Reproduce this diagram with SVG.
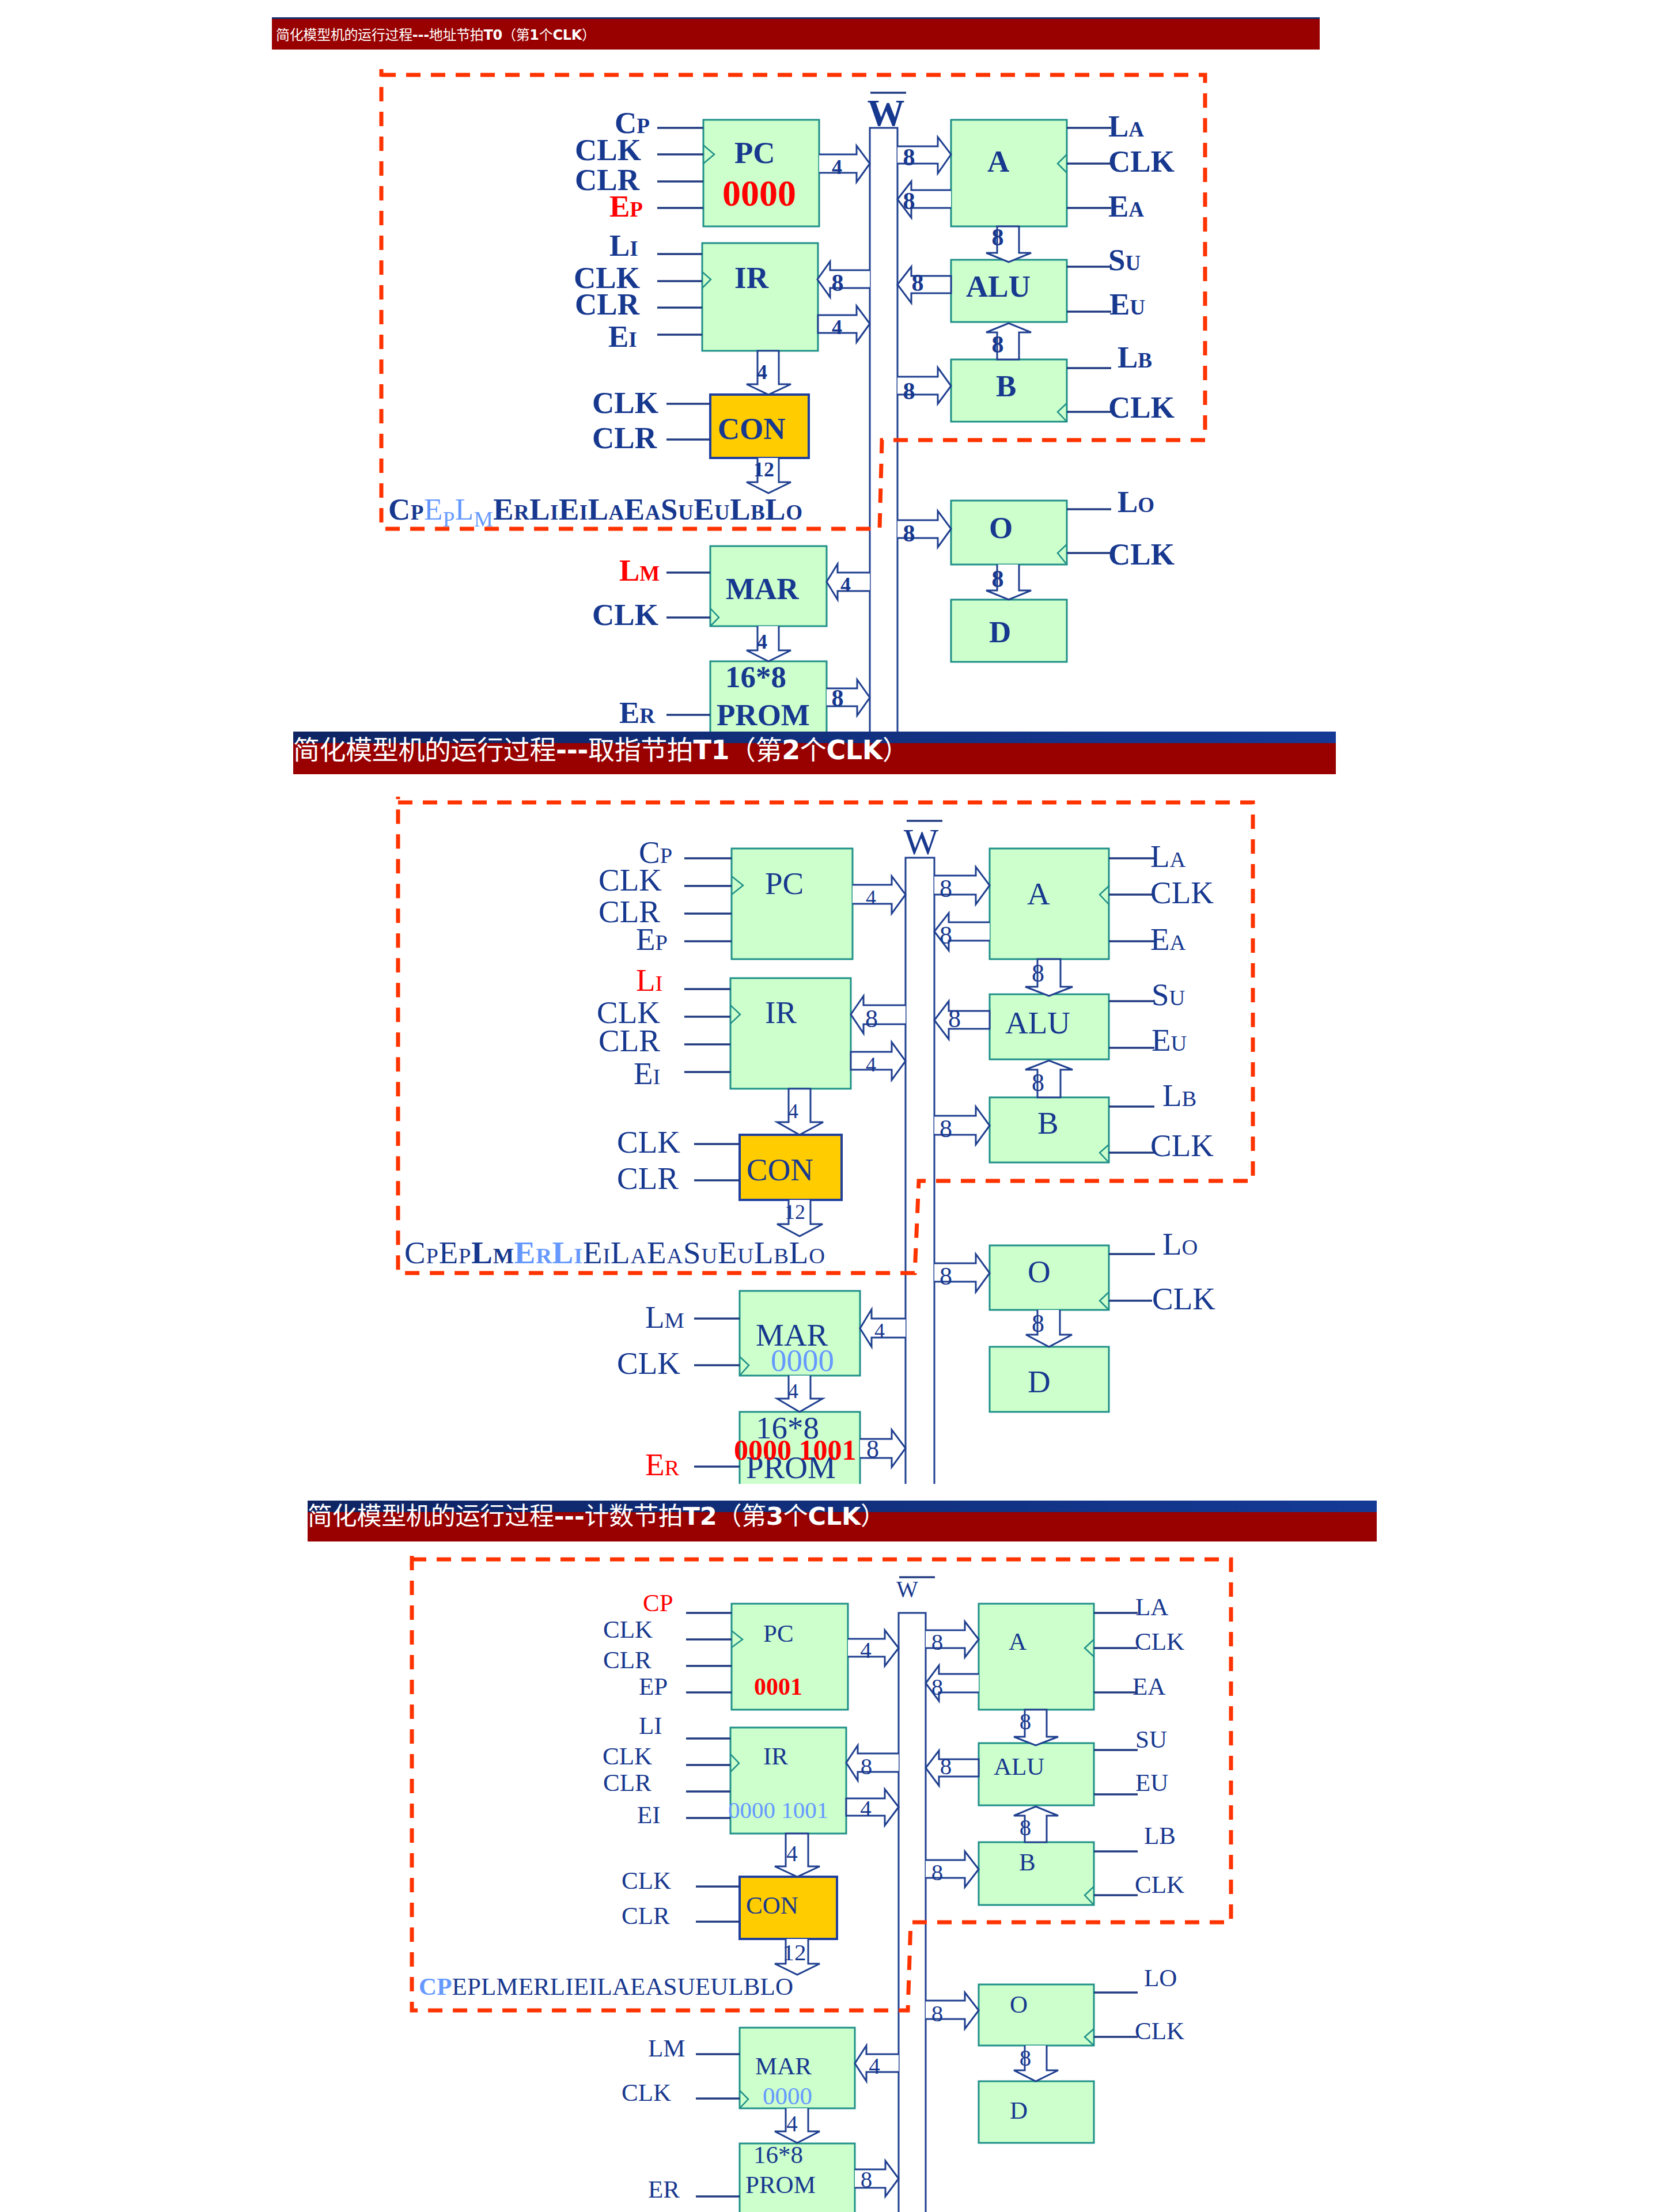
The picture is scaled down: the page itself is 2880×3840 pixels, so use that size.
<svg xmlns="http://www.w3.org/2000/svg" width="2880" height="3840" viewBox="0 0 2880 3840">
<style>
text{fill:#17388f;font-family:"Liberation Serif","Noto Sans CJK SC",serif}
.p1 text{font-weight:bold;font-size:53px}
.p2 text{font-size:55px}
.p3 text{font-size:43px}
.p1 .w{font-size:65px}.p2 .w{font-size:64px}.p3 .w{font-size:40px}
.p1 .big{font-size:64px}
.p2 .redb{font-size:50px;font-weight:bold}
.p3 .redb{font-size:42px;font-weight:bold}
.p3 .lt41{font-size:41px}
.s{font-size:.7em}
.red,.red tspan,.redb{fill:#ff0000}
.lt,.lt tspan{fill:#6699ff}
.reg{font-weight:normal}
.bd{font-weight:bold}
.m{text-anchor:middle}
.p1 .d8{font-size:42px}.p1 .d4{font-size:36px}
.p2 .d8{font-size:44px}.p2 .d4{font-size:36px}
.p3 .d8{font-size:41px}.p3 .d4{font-size:39px}
.nd{fill:#ccffcc;stroke:#1f9088;stroke-width:3}
.nf{fill:#ccffcc}
.ne{fill:none;stroke:#1f9088;stroke-width:3}
.con{fill:#ffcc00;stroke:#1f3f9f;stroke-width:4}
.clk{fill:none;stroke:#1f9088;stroke-width:2.5}
.bus{fill:#fff;stroke:#1f3f8f;stroke-width:3}
.ar{fill:#fff;stroke:#1f3f8f;stroke-width:3;stroke-linejoin:miter}
.ln{fill:none;stroke:#1f3a80;stroke-width:3.5}
.dash{fill:none;stroke:#ff3300;stroke-width:7;stroke-dasharray:25 18}
.bn{fill:#990000}
.bt{fill:#fff;font-family:"Noto Sans CJK SC",sans-serif}
.bt tspan{fill:#fff}
.lat{font-family:"DejaVu Sans",sans-serif;font-weight:bold}
</style>
<defs>
<linearGradient id="navy" x1="0" x2="1" y1="0" y2="0"><stop offset="0" stop-color="#0e2463"/><stop offset="1" stop-color="#143a96"/></linearGradient>
</defs>

<g id="panel1" class="p1">
<g id="p1-banner"><rect x="472" y="30" width="1819" height="56" class="bn"/><rect x="472" y="30" width="1819" height="3" fill="#17306f"/>
<text class="bt" x="479" y="69" style="font-size:24px;font-weight:normal" textLength="555">简化模型机的运行过程<tspan class="lat">---</tspan>地址节拍<tspan class="lat">T0</tspan>（第<tspan class="lat">1</tspan>个<tspan class="lat">CLK</tspan>）</text></g>
<g id="p1-bus"><path class="bus" d="M1510,1270V222H1558V1270"/><text class="w m" x="1538" y="218">W</text><path class="ln" d="M1511,161H1573"/></g>
<g id="p1-pc"><rect class="nd" x="1221" y="208" width="201" height="185"/><path class="clk" d="M1221,252L1240,268L1221,284"/><text x="1275" y="283">PC</text><text class="big red" x="1254" y="357">0000</text></g>
<g id="p1-ir"><rect class="nd" x="1219" y="422" width="201" height="187"/><path class="clk" d="M1219,472L1234,485L1219,500"/><text x="1275" y="500">IR</text></g>
<g id="p1-con"><rect class="con" x="1233" y="685" width="171" height="110"/><text x="1246" y="762">CON</text></g>
<g id="p1-mar"><rect class="nd" x="1233" y="948" width="202" height="139"/><path class="clk" d="M1233,1056L1248,1072L1233,1087"/><text x="1260" y="1040">MAR</text></g>
<g id="p1-prom"><rect class="nf" x="1233" y="1148" width="202" height="122"/><path class="ne" d="M1233,1270V1148H1435V1270"/><text x="1259" y="1193">16*8</text><text x="1244" y="1259">PROM</text></g>
<g id="p1-a"><rect class="nd" x="1651" y="208" width="201" height="185"/><path class="clk" d="M1852,268L1836,284L1852,300"/><text x="1714" y="298">A</text></g>
<g id="p1-alu"><rect class="nd" x="1651" y="451" width="201" height="108"/><text x="1677" y="515">ALU</text></g>
<g id="p1-b"><rect class="nd" x="1651" y="624" width="201" height="108"/><path class="clk" d="M1852,700L1836,715L1852,732"/><text x="1729" y="688">B</text></g>
<g id="p1-o"><rect class="nd" x="1651" y="869" width="201" height="111"/><path class="clk" d="M1852,945L1836,960L1852,980"/><text x="1717" y="934">O</text></g>
<g id="p1-d"><rect class="nd" x="1651" y="1041" width="201" height="108"/><text x="1717" y="1115">D</text></g>
<g id="p1-signals">
<text x="1067" y="231">C<tspan class="s">P</tspan></text>
<text x="998" y="278">CLK</text><text x="998" y="330">CLR</text>
<text class="red" x="1058" y="376">E<tspan class="s">P</tspan></text>
<text x="1058" y="444">L<tspan class="s">I</tspan></text>
<text x="996" y="500">CLK</text><text x="998" y="546">CLR</text>
<text x="1056" y="602">E<tspan class="s">I</tspan></text>
<text x="1028" y="717">CLK</text><text x="1028" y="778">CLR</text>
<text class="red" x="1075" y="1008">L<tspan class="s">M</tspan></text>
<text x="1028" y="1085">CLK</text>
<text x="1075" y="1255">E<tspan class="s">R</tspan></text>
<text x="1924" y="237">L<tspan class="s">A</tspan></text><text x="1924" y="298">CLK</text><text x="1924" y="376">E<tspan class="s">A</tspan></text>
<text x="1924" y="469">S<tspan class="s">U</tspan></text><text x="1926" y="546">E<tspan class="s">U</tspan></text>
<text x="1940" y="638">L<tspan class="s">B</tspan></text><text x="1924" y="725">CLK</text>
<text x="1940" y="889">L<tspan class="s">O</tspan></text><text x="1924" y="980">CLK</text>
<text id="p1-cw" x="674" y="902" textLength="719">C<tspan class="s">P</tspan><tspan class="lt reg">E<tspan class="s" dy="12">P</tspan><tspan dy="-12">L</tspan><tspan class="s" dy="12">M</tspan></tspan><tspan dy="-12">E</tspan><tspan class="s">R</tspan>L<tspan class="s">I</tspan>E<tspan class="s">I</tspan>L<tspan class="s">A</tspan>E<tspan class="s">A</tspan>S<tspan class="s">U</tspan>E<tspan class="s">U</tspan>L<tspan class="s">B</tspan>L<tspan class="s">O</tspan></text>
</g>
<g id="p1-connectors">
<path class="ln" d="M1141,222H1221M1141,268H1221M1141,315H1221M1141,361H1221M1141,441H1219M1141,488H1219M1141,534H1219M1141,581H1219M1157,701H1233M1157,763H1233M1157,994H1233M1157,1072H1233M1157,1241H1233M1852,222H1929M1852,284H1929M1852,361H1929M1852,463H1929M1852,541H1929M1852,639H1929M1852,715H1929M1852,884H1929M1852,960H1929"/>
<path class="ar" d="M1422,268H1487V253L1510,284L1487,316V300H1422"/>
<path class="ar" d="M1558,254H1628V238L1651,268L1628,301V284H1558"/>
<path class="ar" d="M1651,330H1582V315L1558,346L1582,378V361H1651"/>
<path class="ar" d="M1510,469H1441V454L1419,485L1441,516V500H1510"/>
<path class="ar" d="M1651,479H1582V463L1558,494L1582,526V509H1651Z"/>
<path class="ar" d="M1420,547H1487V531L1510,562L1487,594V578H1420Z"/>
<path class="ar" d="M1558,654H1628V638L1651,670L1628,701V685H1558"/>
<path class="ar" d="M1558,903H1628V887L1651,918L1628,950V934H1558"/>
<path class="ar" d="M1731,393V439H1712L1751,455L1790,439H1769V393Z"/>
<path class="ar" d="M1731,624V577H1712L1751,561L1790,577H1769V624Z"/>
<path class="ar" d="M1731,980V1025H1712L1751,1041L1790,1025H1769V980"/>
<path class="ar" d="M1315,609V667H1296L1334,685L1373,667H1352V609Z"/>
<path class="ar" d="M1315,795V837H1296L1334,856L1373,837H1352V795"/>
<path class="ar" d="M1315,1087V1129H1296L1334,1148L1373,1129H1352V1087"/>
<path class="ar" d="M1510,994H1454V979L1435,1010L1454,1041V1026H1510"/>
<path class="ar" d="M1435,1195H1488V1180L1510,1211L1488,1242V1226H1435"/>
<text class="d4 m" x="1453" y="302">4</text><text class="d8 m" x="1578" y="287">8</text><text class="d8 m" x="1578" y="363">8</text>
<text class="d8 m" x="1454" y="505">8</text><text class="d4 m" x="1453" y="580">4</text><text class="d8 m" x="1593" y="505">8</text>
<text class="d8 m" x="1732" y="426">8</text><text class="d8 m" x="1732" y="612">8</text><text class="d8 m" x="1578" y="693">8</text>
<text class="d8 m" x="1578" y="940">8</text><text class="d8 m" x="1732" y="1019">8</text>
<text class="d4 m" x="1323" y="658">4</text><text class="d4 m" x="1326" y="827">12</text><text class="d4 m" x="1468" y="1027">4</text>
<text class="d4 m" x="1323" y="1126">4</text><text class="d8 m" x="1454" y="1226">8</text>
</g>
<path id="p1-dash" class="dash" d="M662,130H2092V764H1531L1527,918H662V120"/>
</g>

<g id="panel2" class="p2">
<g id="p2-bus"><path class="bus" d="M1572,2576V1489H1622V2576"/><text class="w m" x="1599" y="1483">W</text><path class="ln" d="M1574,1425H1636"/></g>
<g id="p2-pc"><rect class="nd" x="1270" y="1473" width="210" height="192"/><path class="clk" d="M1270,1521L1290,1537L1270,1553"/><text x="1328" y="1552">PC</text></g>
<g id="p2-ir"><rect class="nd" x="1268" y="1698" width="209" height="192"/><path class="clk" d="M1268,1745L1285,1761L1268,1777"/><text x="1328" y="1776">IR</text></g>
<g id="p2-con"><rect class="con" x="1284" y="1970" width="177" height="113"/><text x="1296" y="2049">CON</text></g>
<g id="p2-mar"><rect class="nd" x="1284" y="2241" width="209" height="147"/><path class="clk" d="M1284,2355L1300,2370L1284,2388"/><text x="1312" y="2336">MAR</text><text class="lt" x="1338" y="2380">0000</text></g>
<g id="p2-prom"><rect class="nf" x="1284" y="2451" width="209" height="125"/><path class="ne" d="M1284,2576V2451H1493V2576"/><text x="1312" y="2497">16*8</text><text x="1295" y="2566">PROM</text><text class="redb" x="1274" y="2534">0000 1001</text></g>
<g id="p2-a"><rect class="nd" x="1718" y="1473" width="207" height="192"/><path class="clk" d="M1925,1538L1909,1553L1925,1570"/><text x="1783" y="1570">A</text></g>
<g id="p2-alu"><rect class="nd" x="1718" y="1726" width="207" height="113"/><text x="1745" y="1794">ALU</text></g>
<g id="p2-b"><rect class="nd" x="1718" y="1905" width="207" height="113"/><path class="clk" d="M1925,1987L1909,2001L1925,2018"/><text x="1801" y="1968">B</text></g>
<g id="p2-o"><rect class="nd" x="1718" y="2162" width="207" height="112"/><path class="clk" d="M1925,2243L1909,2258L1925,2274"/><text x="1784" y="2226">O</text></g>
<g id="p2-d"><rect class="nd" x="1718" y="2338" width="207" height="113"/><text x="1784" y="2417">D</text></g>
<g id="p2-signals">
<text x="1109" y="1498">C<tspan class="s">P</tspan></text>
<text x="1039" y="1546">CLK</text><text x="1039" y="1601">CLR</text>
<text x="1104" y="1649">E<tspan class="s">P</tspan></text>
<text class="red" x="1104" y="1720">L<tspan class="s">I</tspan></text>
<text x="1036" y="1776">CLK</text><text x="1039" y="1825">CLR</text>
<text x="1100" y="1882">E<tspan class="s">I</tspan></text>
<text x="1071" y="2001">CLK</text><text x="1071" y="2064">CLR</text>
<text x="1120" y="2305">L<tspan class="s">M</tspan></text>
<text x="1071" y="2385">CLK</text>
<text class="red" x="1120" y="2561">E<tspan class="s">R</tspan></text>
<text x="1997" y="1505">L<tspan class="s">A</tspan></text><text x="1997" y="1568">CLK</text><text x="1997" y="1649">E<tspan class="s">A</tspan></text>
<text x="1999" y="1745">S<tspan class="s">U</tspan></text><text x="1999" y="1824">E<tspan class="s">U</tspan></text>
<text x="2018" y="1920">L<tspan class="s">B</tspan></text><text x="1997" y="2007">CLK</text>
<text x="2018" y="2178">L<tspan class="s">O</tspan></text><text x="2000" y="2273">CLK</text>
<text id="p2-cw" x="702" y="2193" textLength="730">C<tspan class="s">P</tspan>E<tspan class="s">P</tspan><tspan class="bd">L<tspan class="s">M</tspan></tspan><tspan class="lt bd">E<tspan class="s">R</tspan>L<tspan class="s">I</tspan></tspan>E<tspan class="s">I</tspan>L<tspan class="s">A</tspan>E<tspan class="s">A</tspan>S<tspan class="s">U</tspan>E<tspan class="s">U</tspan>L<tspan class="s">B</tspan>L<tspan class="s">O</tspan></text>
</g>
<g id="p2-connectors">
<path class="ln" d="M1188,1490H1270M1188,1538H1270M1188,1586H1270M1188,1634H1270M1188,1717H1268M1188,1765H1268M1188,1813H1268M1188,1861H1268M1205,1986H1284M1205,2049H1284M1205,2289H1284M1205,2370H1284M1205,2546H1284M1925,1490H2004M1925,1553H2004M1925,1634H2004M1925,1738H2004M1925,1819H2004M1925,1921H2004M1925,2001H2004M1925,2177H2005M1925,2258H2000"/>
<path class="ar" d="M1480,1536H1548V1521L1572,1553L1548,1586V1569H1480"/>
<path class="ar" d="M1622,1520H1694V1505L1718,1537L1694,1570V1553H1622"/>
<path class="ar" d="M1718,1601H1647V1585L1622,1617L1647,1650V1633H1718"/>
<path class="ar" d="M1572,1745H1499V1729L1477,1761L1499,1794V1778H1572"/>
<path class="ar" d="M1718,1755H1647V1738L1622,1771L1647,1804V1786H1718Z"/>
<path class="ar" d="M1477,1826H1548V1809L1572,1842L1548,1875V1857H1477Z"/>
<path class="ar" d="M1622,1937H1694V1921L1718,1954L1694,1987V1970H1622"/>
<path class="ar" d="M1622,2193H1694V2177L1718,2210L1694,2243V2225H1622"/>
<path class="ar" d="M1801,1665V1713H1780L1821,1729L1862,1713H1841V1665Z"/>
<path class="ar" d="M1801,1905V1857H1780L1821,1841L1862,1857H1841V1905Z"/>
<path class="ar" d="M1801,2274V2317H1781L1821,2338L1861,2317H1840V2274"/>
<path class="ar" d="M1369,1890V1948H1349L1388,1970L1429,1948H1407V1890Z"/>
<path class="ar" d="M1369,2083V2125H1349L1388,2146L1428,2125H1407V2083"/>
<path class="ar" d="M1369,2388V2428H1349L1388,2451L1428,2428H1407V2388"/>
<path class="ar" d="M1572,2289H1513V2273L1493,2306L1513,2338V2322H1572"/>
<path class="ar" d="M1493,2498H1548V2482L1572,2514L1548,2547V2531H1493"/>
<text class="d4 m" x="1512" y="1570">4</text><text class="d8 m" x="1642" y="1557">8</text><text class="d8 m" x="1642" y="1638">8</text>
<text class="d8 m" x="1513" y="1783">8</text><text class="d4 m" x="1512" y="1860">4</text><text class="d8 m" x="1657" y="1783">8</text>
<text class="d8 m" x="1802" y="1704">8</text><text class="d8 m" x="1802" y="1894">8</text><text class="d8 m" x="1642" y="1974">8</text>
<text class="d8 m" x="1642" y="2230">8</text><text class="d8 m" x="1802" y="2312">8</text>
<text class="d4 m" x="1377" y="1941">4</text><text class="d4 m" x="1380" y="2116">12</text><text class="d4 m" x="1527" y="2322">4</text>
<text class="d4 m" x="1377" y="2427">4</text><text class="d8 m" x="1515" y="2530">8</text>
</g>
<path id="p2-dash" class="dash" d="M691,1393H2175V2050H1595L1588,2210H691V1383"/>
</g>

<g id="p2-banner"><rect x="509" y="1270" width="1810" height="74" class="bn"/><rect x="509" y="1270" width="1810" height="20" fill="url(#navy)"/>
<text class="bt" x="509" y="1318" style="font-size:46px" textLength="1069">简化模型机的运行过程<tspan class="lat">---</tspan>取指节拍<tspan class="lat">T1</tspan>（第<tspan class="lat">2</tspan>个<tspan class="lat">CLK</tspan>）</text></g>

<g id="panel3" class="p3">
<g id="p3-bus"><path class="bus" d="M1560,3840V2800H1607V3840"/><text class="w m" x="1575" y="2772">W</text><path class="ln" d="M1561,2738H1623"/></g>
<g id="p3-pc"><rect class="nd" x="1270" y="2784" width="202" height="184"/><path class="clk" d="M1270,2831L1289,2846L1270,2860"/><text x="1325" y="2850">PC</text><text class="redb" x="1309" y="2942">0001</text></g>
<g id="p3-ir"><rect class="nd" x="1268" y="2999" width="201" height="184"/><path class="clk" d="M1268,3045L1283,3061L1268,3076"/><text x="1325" y="3063">IR</text><text class="lt lt41" x="1264" y="3156">0000 1001</text></g>
<g id="p3-con"><rect class="con" x="1284" y="3258" width="169" height="108"/><text x="1295" y="3322">CON</text></g>
<g id="p3-mar"><rect class="nd" x="1284" y="3520" width="200" height="140"/><path class="clk" d="M1284,3629L1299,3644L1284,3660"/><text x="1311" y="3601">MAR</text><text class="lt" x="1324" y="3653">0000</text></g>
<g id="p3-prom"><rect class="nf" x="1284" y="3721" width="200" height="119"/><path class="ne" d="M1284,3840V3721H1484V3840"/><text x="1308" y="3755">16*8</text><text x="1294" y="3807">PROM</text></g>
<g id="p3-a"><rect class="nd" x="1699" y="2784" width="200" height="184"/><path class="clk" d="M1899,2846L1883,2861L1899,2876"/><text x="1751" y="2864">A</text></g>
<g id="p3-alu"><rect class="nd" x="1699" y="3026" width="200" height="108"/><text x="1725" y="3081">ALU</text></g>
<g id="p3-b"><rect class="nd" x="1699" y="3198" width="200" height="109"/><path class="clk" d="M1899,3275L1883,3290L1899,3307"/><text x="1769" y="3247">B</text></g>
<g id="p3-o"><rect class="nd" x="1699" y="3445" width="200" height="106"/><path class="clk" d="M1899,3522L1883,3536L1899,3551"/><text x="1753" y="3494">O</text></g>
<g id="p3-d"><rect class="nd" x="1699" y="3613" width="200" height="107"/><text x="1753" y="3678">D</text></g>
<g id="p3-signals">
<text class="red" x="1116" y="2797">CP</text>
<text x="1047" y="2843">CLK</text><text x="1047" y="2896">CLR</text>
<text x="1109" y="2942">EP</text><text x="1109" y="3010">LI</text>
<text x="1046" y="3063">CLK</text><text x="1047" y="3109">CLR</text>
<text x="1106" y="3165">EI</text>
<text x="1079" y="3279">CLK</text><text x="1079" y="3340">CLR</text>
<text x="1125" y="3570">LM</text><text x="1079" y="3647">CLK</text><text x="1125" y="3815">ER</text>
<text x="1971" y="2804">LA</text><text x="1970" y="2864">CLK</text><text x="1966" y="2942">EA</text>
<text x="1971" y="3034">SU</text><text x="1971" y="3109">EU</text>
<text x="1986" y="3201">LB</text><text x="1970" y="3286">CLK</text>
<text x="1986" y="3448">LO</text><text x="1970" y="3540">CLK</text>
<text id="p3-cw" x="727" y="3463" textLength="650"><tspan class="lt bd">CP</tspan>EPLMERLIEILAEASUEULBLO</text>
</g>
<g id="p3-connectors">
<path class="ln" d="M1191,2800H1270M1191,2846H1270M1191,2892H1270M1191,2938H1270M1191,3018H1268M1191,3064H1268M1191,3110H1268M1191,3156H1268M1208,3275H1284M1208,3336H1284M1208,3566H1284M1208,3643H1284M1208,3813H1284M1899,2800H1975M1899,2861H1975M1899,2938H1975M1899,3038H1975M1899,3115H1975M1899,3214H1975M1899,3290H1975M1899,3459H1975M1899,3536H1975"/>
<path class="ar" d="M1472,2845H1536V2830L1560,2861L1536,2892V2876H1472"/>
<path class="ar" d="M1607,2830H1675V2815L1699,2846L1675,2877V2861H1607"/>
<path class="ar" d="M1699,2906H1630V2891L1607,2922L1630,2953V2938H1699"/>
<path class="ar" d="M1560,3044H1489V3030L1469,3060L1489,3091V3076H1560"/>
<path class="ar" d="M1699,3054H1630V3039L1607,3069L1630,3100V3084H1699Z"/>
<path class="ar" d="M1469,3122H1536V3106L1560,3137L1536,3169V3152H1469Z"/>
<path class="ar" d="M1607,3229H1675V3214L1699,3245L1675,3276V3260H1607"/>
<path class="ar" d="M1607,3473H1675V3459L1699,3490L1675,3522V3505H1607"/>
<path class="ar" d="M1779,2968V3015H1760L1798,3030L1837,3015H1817V2968Z"/>
<path class="ar" d="M1779,3198V3152H1760L1798,3136L1837,3152H1817V3198Z"/>
<path class="ar" d="M1779,3551V3594H1760L1798,3613L1837,3594H1817V3551"/>
<path class="ar" d="M1364,3183V3240H1345L1384,3258L1423,3240H1403V3183Z"/>
<path class="ar" d="M1364,3366V3409H1345L1384,3428L1423,3409H1403V3366"/>
<path class="ar" d="M1364,3660V3700H1345L1384,3720L1423,3700H1403V3660"/>
<path class="ar" d="M1560,3566H1504V3551L1484,3582L1504,3613V3597H1560"/>
<path class="ar" d="M1484,3766H1537V3751L1560,3782L1537,3813V3798H1484"/>
<text class="d4 m" x="1503" y="2878">4</text><text class="d8 m" x="1627" y="2864">8</text><text class="d8 m" x="1627" y="2942">8</text>
<text class="d8 m" x="1504" y="3080">8</text><text class="d4 m" x="1503" y="3153">4</text><text class="d8 m" x="1642" y="3080">8</text>
<text class="d8 m" x="1780" y="3002">8</text><text class="d8 m" x="1780" y="3186">8</text><text class="d8 m" x="1627" y="3264">8</text>
<text class="d8 m" x="1627" y="3509">8</text><text class="d8 m" x="1780" y="3586">8</text>
<text class="d4 m" x="1375" y="3231">4</text><text class="d8 m" x="1379" y="3403">12</text><text class="d4 m" x="1518" y="3600">4</text>
<text class="d4 m" x="1375" y="3700">4</text><text class="d8 m" x="1504" y="3797">8</text>
</g>
<path id="p3-dash" class="dash" d="M715,2707H2137V3337H1581L1576,3490H715V2697"/>
</g>

<g id="p3-banner"><rect x="534" y="2605" width="1856" height="71" class="bn"/><rect x="534" y="2605" width="1856" height="20" fill="url(#navy)"/>
<text class="bt" x="534" y="2647" style="font-size:43px" textLength="1003">简化模型机的运行过程<tspan class="lat">---</tspan>计数节拍<tspan class="lat">T2</tspan>（第<tspan class="lat">3</tspan>个<tspan class="lat">CLK</tspan>）</text></g>
</svg>
